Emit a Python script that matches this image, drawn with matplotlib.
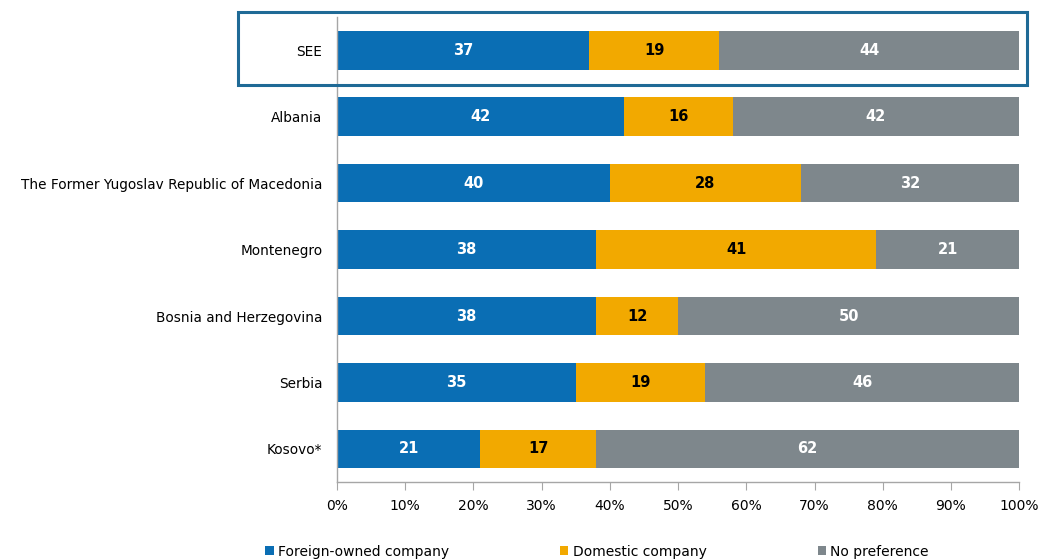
import matplotlib
matplotlib.use("Agg")
import matplotlib.pyplot as plt
from matplotlib.patches import Rectangle
from matplotlib.ticker import FuncFormatter

categories = ["SEE", "Albania", "The Former Yugoslav Republic of Macedonia",
              "Montenegro", "Bosnia and Herzegovina", "Serbia", "Kosovo*"]
foreign = [37, 42, 40, 38, 38, 35, 21]
domestic = [19, 16, 28, 41, 12, 19, 17]
no_pref = [44, 42, 32, 21, 50, 46, 62]
series_names = ["Foreign-owned company", "Domestic company", "No preference"]
colors = ["#0A6EB4", "#F2A900", "#7E878C"]
text_colors = ["white", "black", "white"]

plt.rcParams["font.family"] = ["DejaVu Sans Condensed", "DejaVu Sans"]

fig = plt.figure(figsize=(10.4, 5.6), dpi=100)
ax = fig.add_axes([0.324, 0.139, 0.656, 0.8306])

y = list(range(len(categories)))
left = [0] * len(categories)
for vals, name, col, tcol in zip([foreign, domestic, no_pref], series_names, colors, text_colors):
    ax.barh(y, vals, left=left, height=0.58, color=col, label=name)
    for yi, l, v in zip(y, left, vals):
        ax.text(l + v / 2, yi, f"{v}", ha="center", va="center",
                color=tcol, fontsize=10.5, fontweight="bold")
    left = [a + b for a, b in zip(left, vals)]

ax.set_xlim(0, 100)
ax.set_ylim(len(categories) - 0.5, -0.5)
ax.set_yticks(y)
ax.set_yticklabels(categories, fontsize=9.8)
ax.tick_params(axis="y", length=0, pad=10.5)
ax.set_xticks(range(0, 101, 10))
ax.xaxis.set_major_formatter(FuncFormatter(lambda v, p: f"{int(v)}%"))
ax.tick_params(axis="x", length=6, color="#A6A6A6", labelsize=10, pad=6)
for s in ["top", "right"]:
    ax.spines[s].set_visible(False)
for s in ["left", "bottom"]:
    ax.spines[s].set_color("#A6A6A6")
    ax.spines[s].set_linewidth(1)

# highlight frame around the regional average row
fig.add_artist(Rectangle((238 / 1040, 1 - 85 / 560), (1027 - 238) / 1040, (85 - 12) / 560,
                         transform=fig.transFigure, fill=False,
                         edgecolor="#1F6A96", linewidth=2.2))

handles, labels = ax.get_legend_handles_labels()
fig.legend(handles, labels, loc="lower center", bbox_to_anchor=(0.574, -0.02),
           ncol=3, frameon=False, fontsize=10, handlelength=0.6, handleheight=0.6,
           handletextpad=0.3, columnspacing=8.0)

fig.savefig("out.png", dpi=100)
